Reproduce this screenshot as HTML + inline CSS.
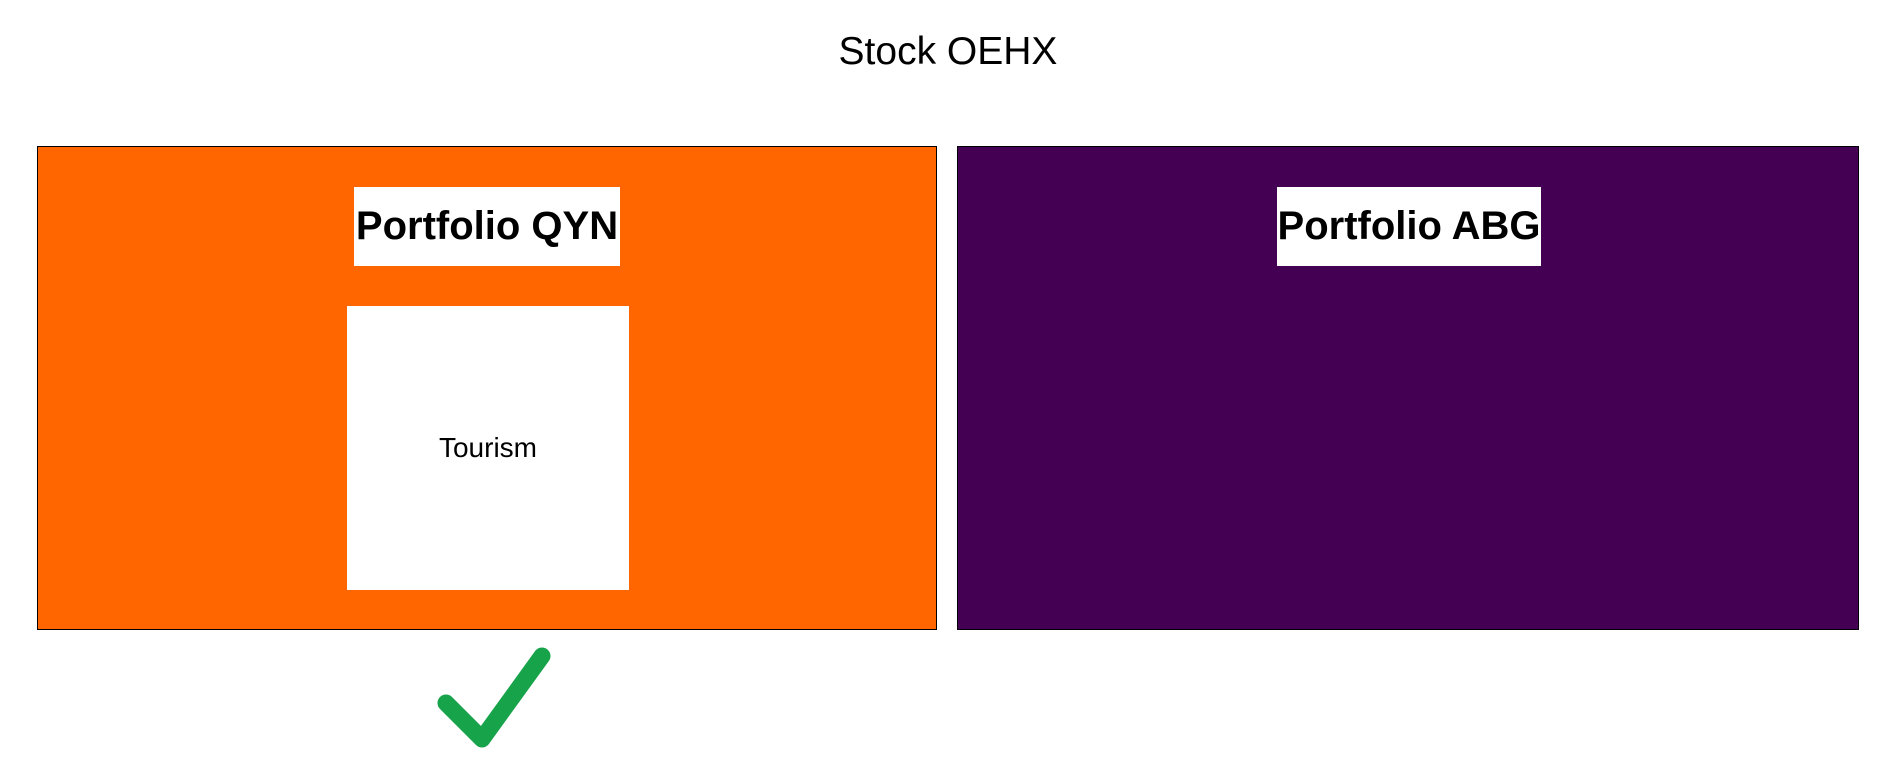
<!DOCTYPE html>
<html><head><meta charset="utf-8"><style>
html,body{margin:0;padding:0;background:#fff;width:1886px;height:777px;overflow:hidden;font-family:"Liberation Sans",sans-serif;}
.abs{position:absolute;}
.panel{position:absolute;top:146px;height:484px;border:1px solid #000;box-sizing:border-box;}
.label{position:absolute;background:#fff;color:#000;font-weight:bold;font-size:40px;display:flex;align-items:center;justify-content:center;white-space:nowrap;}
</style></head><body>
<div class="abs" style="left:0;width:1896px;top:30px;text-align:center;font-size:39px;color:#000;">Stock OEHX</div>
<div class="panel" style="left:37px;width:900px;background:#ff6600;"></div>
<div class="panel" style="left:957px;width:902px;background:#440154;"></div>
<div class="label" style="left:354px;top:187px;width:266px;height:79px;">Portfolio QYN</div>
<div class="label" style="left:1277px;top:187px;width:264px;height:79px;">Portfolio ABG</div>
<div class="abs" style="left:347px;top:306px;width:282px;height:284px;background:#fff;display:flex;align-items:center;justify-content:center;font-size:28px;color:#000;">Tourism</div>
<svg class="abs" style="left:0;top:0" width="1886" height="777">
<polyline points="446,703 482,739 542,656" fill="none" stroke="#17a34a" stroke-width="17" stroke-linecap="round" stroke-linejoin="round"/>
</svg>
</body></html>
